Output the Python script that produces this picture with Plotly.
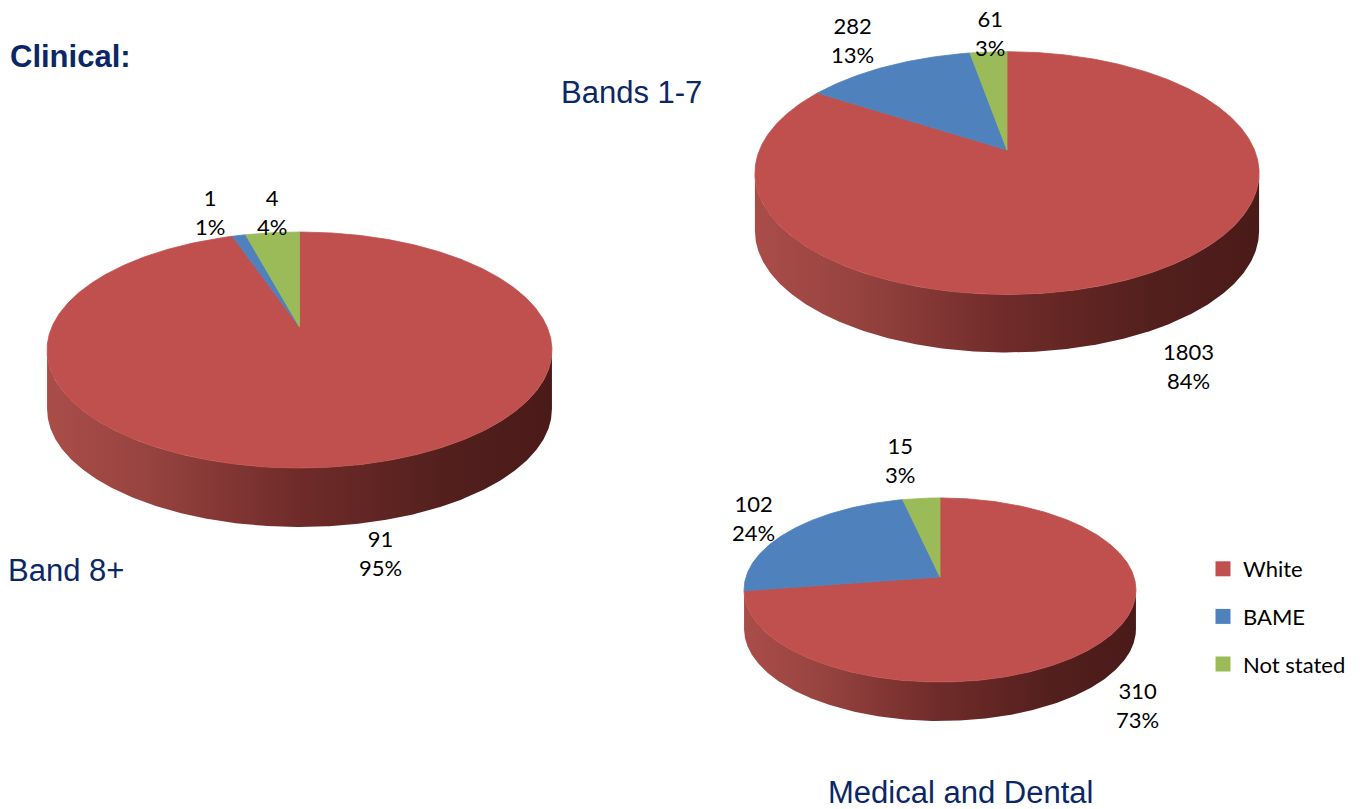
import math
import numpy as np
import plotly.graph_objects as go

# ---- data ----
categories = ["White", "BAME", "Not stated"]
band8_values = [91, 1, 4]
bands17_values = [1803, 282, 61]
medical_values = [310, 102, 15]

# ---- styling ----
W, H = 1369, 809
top_colors = ["#C0504D", "#4F81BD", "#9BBB59"]
side_scales = [
    [[0, "#AA4D49"], [0.2, "#974340"], [0.5, "#6F2B29"], [0.8, "#521F1D"], [1, "#4A1A19"]],
    [[0, "#4A74A8"], [0.2, "#41679A"], [0.5, "#2F4C72"], [0.8, "#233A58"], [1, "#1F3350"]],
    [[0, "#8AA751"], [0.2, "#7A9447"], [0.5, "#5A6E33"], [0.8, "#445327"], [1, "#3C4922"]],
]
title_color = "#0B2765"
title_font = "Liberation Sans, Arial, sans-serif"
label_font = "Lato, Open Sans, sans-serif"

# pie geometry in pixel space: apex position, horizontal/vertical radius,
# perspective factor and wall depth
pies = [
    dict(values=band8_values, cx=299.5, cy=327, a=247.6, b=113.5, k=0.195, depth=59,
         label_pos=[(380, 553), (210, 212), (272, 212)]),
    dict(values=bands17_values, cx=1007, cy=150, a=247.5, b=117.0, k=0.19, depth=58,
         label_pos=[(1188, 366), (852, 40), (990, 33)]),
    dict(values=medical_values, cx=940, cy=577, a=194.0, b=90.2, k=0.141, depth=39,
         label_pos=[(1137, 705), (753, 518), (900, 460)]),
]


def project(theta_deg, g):
    """Map an angle (clockwise from 12 o'clock) on the pie rim to the page."""
    t = np.radians(theta_deg)
    d = 1 + g["k"] * np.cos(t)
    return g["cx"] + g["a"] * np.sin(t) / d, g["cy"] - g["b"] * np.cos(t) / d


def rounded_percents(vals):
    """Percentages rounded so that they add up to 100 (largest remainder)."""
    total = sum(vals)
    raw = [v * 100.0 / total for v in vals]
    base = [math.floor(r) for r in raw]
    rest = 100 - sum(base)
    order = sorted(range(len(vals)), key=lambda i: raw[i] - base[i], reverse=True)
    for i in order[:rest]:
        base[i] += 1
    return base


fig = go.Figure()

for g in pies:
    vals = g["values"]
    total = float(sum(vals))
    bounds = np.concatenate([[0.0], np.cumsum(vals) / total * 360.0])
    vis_lo = 90 + math.degrees(math.asin(g["k"]))
    vis_hi = 360 - vis_lo
    xmax = g["a"] / math.sqrt(1 - g["k"] ** 2)

    # outer wall (front part only), drawn first
    for i in range(len(vals)):
        s, e = max(bounds[i], vis_lo), min(bounds[i + 1], vis_hi)
        if e - s <= 0.05:
            continue
        th = np.linspace(s, e, max(int((e - s) * 2), 4))
        ux, uy = project(th, g)
        px = np.concatenate([ux, ux[::-1]])
        py = np.concatenate([uy, uy[::-1] + g["depth"]])
        fig.add_trace(go.Scatter(
            x=px, y=py, mode="lines", fill="toself",
            line=dict(width=0, color=top_colors[i]),
            fillgradient=dict(type="horizontal", colorscale=side_scales[i],
                              start=g["cx"] - xmax, stop=g["cx"] + xmax),
            hoverinfo="skip", showlegend=False))

    # top face slices
    for i in range(len(vals)):
        s, e = bounds[i], bounds[i + 1]
        th = np.linspace(s, e, max(int((e - s) * 2), 4))
        ux, uy = project(th, g)
        px = np.concatenate([[g["cx"]], ux, [g["cx"]]])
        py = np.concatenate([[g["cy"]], uy, [g["cy"]]])
        fig.add_trace(go.Scatter(
            x=px, y=py, mode="lines", fill="toself", fillcolor=top_colors[i],
            line=dict(width=0.8, color=top_colors[i]),
            hoverinfo="skip", showlegend=False))

    # data labels: value and percentage
    pcts = rounded_percents(vals)
    for i, v in enumerate(vals):
        lx, ly = g["label_pos"][i]
        fig.add_annotation(x=lx, y=ly, xref="x", yref="y",
                           text=f"{v}<br>{pcts[i]}%", showarrow=False,
                           font=dict(family=label_font, size=22, color="#000000"),
                           align="center", xanchor="center", yanchor="middle")

# legend entries
for i, name in enumerate(categories):
    fig.add_trace(go.Scatter(
        x=[None], y=[None], mode="markers", name=name, legendgroup=name,
        marker=dict(symbol="square", size=15, color=top_colors[i]),
        showlegend=True))

# chart titles
titles = [
    ("Clinical:", 8, 56, "left", True),
    ("Bands 1-7", 559, 92, "left", False),
    ("Band 8+", 6, 570, "left", False),
    ("Medical and Dental", 960, 792, "center", False),
]
for text, tx, ty, anchor, bold in titles:
    fig.add_annotation(x=tx, y=ty, xref="x", yref="y",
                       text=f"<b>{text}</b>" if bold else text, showarrow=False,
                       font=dict(family=title_font, size=31, color=title_color),
                       xanchor=anchor, yanchor="middle")

fig.update_layout(
    width=W, height=H,
    margin=dict(l=0, r=0, t=0, b=0),
    paper_bgcolor="#FFFFFF", plot_bgcolor="#FFFFFF",
    xaxis=dict(range=[0, W], visible=False, fixedrange=True),
    yaxis=dict(range=[H, 0], visible=False, fixedrange=True),
    showlegend=True,
    legend=dict(x=1203 / W, y=1 - 548 / H, xanchor="left", yanchor="top",
                font=dict(family=label_font, size=22, color="#000000"),
                tracegroupgap=16, bgcolor="rgba(0,0,0,0)", itemsizing="trace"),
)

fig.write_html("out.html")
